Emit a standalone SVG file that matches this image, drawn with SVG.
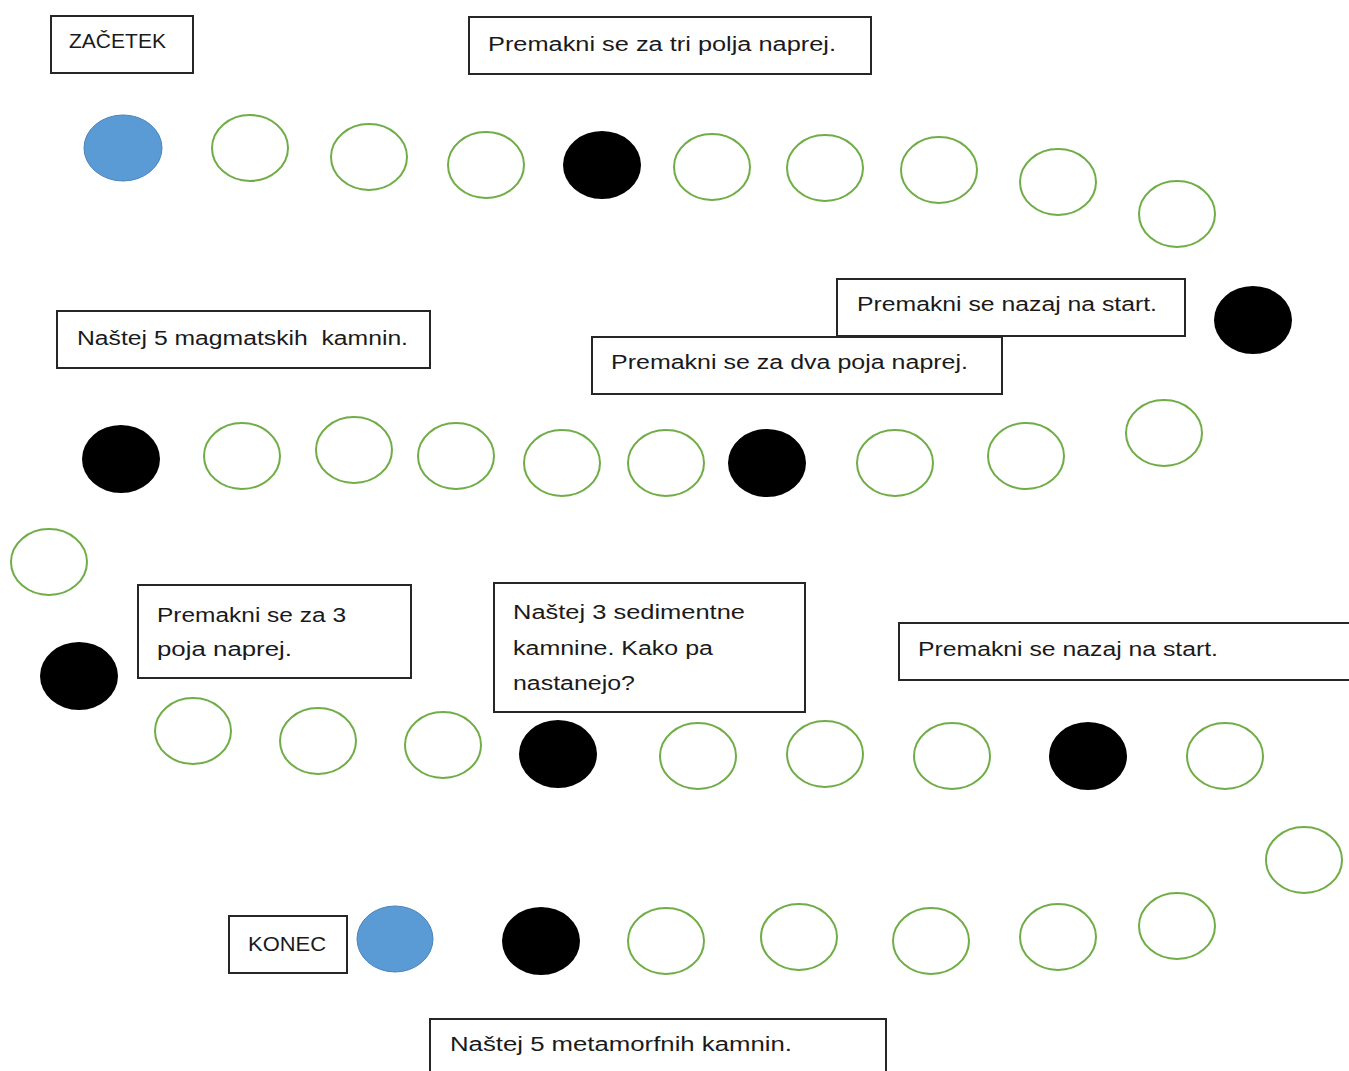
<svg xmlns="http://www.w3.org/2000/svg" width="1349" height="1071" viewBox="0 0 1349 1071">
<style>
.box{fill:#fff;stroke:#262626;stroke-width:2}
.t{font-family:"Liberation Sans",Arial,sans-serif;font-size:20px;fill:#1a1a1a}
.g{fill:#fff;stroke:#70AD47;stroke-width:2}
.k{fill:#000}
.b{fill:#5B9BD5;stroke:#4A84B8;stroke-width:1}
</style>
<rect width="1349" height="1071" fill="#fff"/>
<g id="connectors"></g>
<g id="fields">
<ellipse id="f1" class="b" cx="123" cy="148" rx="39" ry="33"/>
<ellipse id="f2" class="g" cx="250" cy="148" rx="38" ry="33"/>
<ellipse id="f3" class="g" cx="369" cy="157" rx="38" ry="33"/>
<ellipse id="f4" class="g" cx="486" cy="165" rx="38" ry="33"/>
<ellipse id="f5" class="k" cx="602" cy="165" rx="39" ry="34"/>
<ellipse id="f6" class="g" cx="712" cy="167" rx="38" ry="33"/>
<ellipse id="f7" class="g" cx="825" cy="168" rx="38" ry="33"/>
<ellipse id="f8" class="g" cx="939" cy="170" rx="38" ry="33"/>
<ellipse id="f9" class="g" cx="1058" cy="182" rx="38" ry="33"/>
<ellipse id="f10" class="g" cx="1177" cy="214" rx="38" ry="33"/>
<ellipse id="f11" class="k" cx="1253" cy="320" rx="39" ry="34"/>
<ellipse id="f12" class="g" cx="1164" cy="433" rx="38" ry="33"/>
<ellipse id="f13" class="g" cx="1026" cy="456" rx="38" ry="33"/>
<ellipse id="f14" class="g" cx="895" cy="463" rx="38" ry="33"/>
<ellipse id="f15" class="k" cx="767" cy="463" rx="39" ry="34"/>
<ellipse id="f16" class="g" cx="666" cy="463" rx="38" ry="33"/>
<ellipse id="f17" class="g" cx="562" cy="463" rx="38" ry="33"/>
<ellipse id="f18" class="g" cx="456" cy="456" rx="38" ry="33"/>
<ellipse id="f19" class="g" cx="354" cy="450" rx="38" ry="33"/>
<ellipse id="f20" class="g" cx="242" cy="456" rx="38" ry="33"/>
<ellipse id="f21" class="k" cx="121" cy="459" rx="39" ry="34"/>
<ellipse id="f22" class="g" cx="49" cy="562" rx="38" ry="33"/>
<ellipse id="f23" class="k" cx="79" cy="676" rx="39" ry="34"/>
<ellipse id="f24" class="g" cx="193" cy="731" rx="38" ry="33"/>
<ellipse id="f25" class="g" cx="318" cy="741" rx="38" ry="33"/>
<ellipse id="f26" class="g" cx="443" cy="745" rx="38" ry="33"/>
<ellipse id="f27" class="k" cx="558" cy="754" rx="39" ry="34"/>
<ellipse id="f28" class="g" cx="698" cy="756" rx="38" ry="33"/>
<ellipse id="f29" class="g" cx="825" cy="754" rx="38" ry="33"/>
<ellipse id="f30" class="g" cx="952" cy="756" rx="38" ry="33"/>
<ellipse id="f31" class="k" cx="1088" cy="756" rx="39" ry="34"/>
<ellipse id="f32" class="g" cx="1225" cy="756" rx="38" ry="33"/>
<ellipse id="f33" class="g" cx="1304" cy="860" rx="38" ry="33"/>
<ellipse id="f34" class="g" cx="1177" cy="926" rx="38" ry="33"/>
<ellipse id="f35" class="g" cx="1058" cy="937" rx="38" ry="33"/>
<ellipse id="f36" class="g" cx="931" cy="941" rx="38" ry="33"/>
<ellipse id="f37" class="g" cx="799" cy="937" rx="38" ry="33"/>
<ellipse id="f38" class="g" cx="666" cy="941" rx="38" ry="33"/>
<ellipse id="f39" class="k" cx="541" cy="941" rx="39" ry="34"/>
<ellipse id="f40" class="b" cx="395" cy="939" rx="38" ry="33"/>
</g>
<g id="zacetek"><rect class="box" x="51" y="16" width="142" height="57"/><text class="t" x="69" y="48" textLength="97" lengthAdjust="spacingAndGlyphs">ZAČETEK</text></g>
<g id="n-tri"><rect class="box" x="469" y="17" width="402" height="57"/><text class="t" x="488" y="51" textLength="348" lengthAdjust="spacingAndGlyphs">Premakni se za tri polja naprej.</text></g>
<g id="n-start1"><rect class="box" x="837" y="279" width="348" height="57"/><text class="t" x="857" y="311" textLength="300" lengthAdjust="spacingAndGlyphs">Premakni se nazaj na start.</text></g>
<g id="n-dva"><rect class="box" x="592" y="337" width="410" height="57"/><text class="t" x="611" y="369" textLength="357" lengthAdjust="spacingAndGlyphs">Premakni se za dva poja naprej.</text></g>
<g id="n-magm"><rect class="box" x="57" y="311" width="373" height="57"/><text class="t" x="77" y="345" textLength="331" lengthAdjust="spacingAndGlyphs" xml:space="preserve">Naštej 5 magmatskih  kamnin.</text></g>
<g id="n-3"><rect class="box" x="138" y="585" width="273" height="93"/><text class="t" x="157" y="622" textLength="189" lengthAdjust="spacingAndGlyphs">Premakni se za 3</text><text class="t" x="157" y="656" textLength="135" lengthAdjust="spacingAndGlyphs">poja naprej.</text></g>
<g id="n-sed"><rect class="box" x="494" y="583" width="311" height="129"/><text class="t" x="513" y="619" textLength="232" lengthAdjust="spacingAndGlyphs">Naštej 3 sedimentne</text><text class="t" x="513" y="655" textLength="200" lengthAdjust="spacingAndGlyphs">kamnine. Kako pa</text><text class="t" x="513" y="690" textLength="122" lengthAdjust="spacingAndGlyphs">nastanejo?</text></g>
<g id="n-start2"><rect class="box" x="899" y="623" width="460" height="57"/><text class="t" x="918" y="656" textLength="300" lengthAdjust="spacingAndGlyphs">Premakni se nazaj na start.</text></g>
<g id="konec"><rect class="box" x="229" y="916" width="118" height="57"/><text class="t" x="248" y="951" textLength="78" lengthAdjust="spacingAndGlyphs">KONEC</text></g>
<g id="n-meta"><rect class="box" x="430" y="1019" width="456" height="60"/><text class="t" x="450" y="1051" textLength="342" lengthAdjust="spacingAndGlyphs">Naštej 5 metamorfnih kamnin.</text></g>
</svg>
